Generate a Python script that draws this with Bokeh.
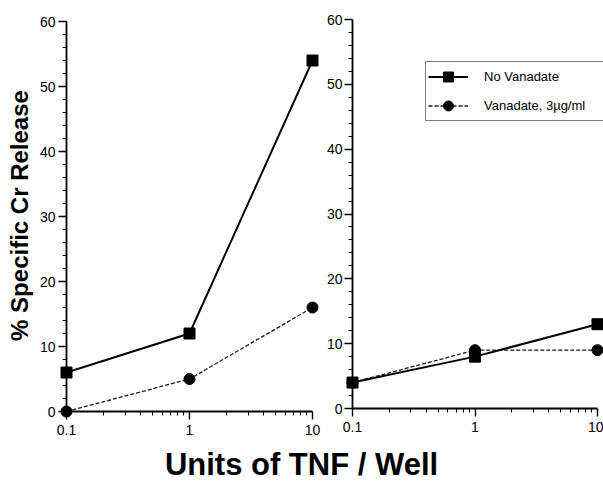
import math
from bokeh.plotting import figure
from bokeh.layouts import row, column
from bokeh.models import (Range1d, FixedTicker, SingleIntervalTicker, CustomJSTickFormatter,
                          Legend, LegendItem, Label)
from bokeh.embed import file_html
from bokeh.resources import INLINE

# ---------------- data ----------------
tnf_units = [0.1, 1, 10]
left_no_vanadate = [6, 12, 54]
left_vanadate = [0, 5, 16]
right_no_vanadate = [4, 8, 13]
right_vanadate = [4, 9, 9]

x_ticks = [0.1, 1, 10]
x_tick_labels = ["0.1", "1", "10"]
x_minor_ticks = [0.2, 0.3, 0.4, 0.5, 0.6, 0.7, 0.8, 0.9, 2, 3, 4, 5, 6, 7, 8, 9]
series_names = ["No Vanadate", "Vanadate, 3µg/ml"]
y_label = "% Specific Cr Release"
x_label = "Units of TNF / Well"

FONT = "Liberation Sans"
ROW_H = 445


def make_panel(W, x01, x10, y60, y0, label_standoff):
    # x01/x10/y60/y0: pixel positions (in the panel's canvas) where the axes should sit
    decade = (x10 - x01) / 2.0
    xs = 0.1 * 10 ** (-x01 / decade)
    xe = 10 * 10 ** ((W - x10) / decade)
    unit = (y0 - y60) / 60.0
    ys = -(ROW_H - y0) / unit
    ye = 60 + y60 / unit
    p = figure(width=W, height=ROW_H, x_axis_type="log",
               x_range=Range1d(xs, xe), y_range=Range1d(ys, ye),
               toolbar_location=None, output_backend="svg", title=None,
               min_border=0)
    p.grid.visible = False
    p.outline_line_color = None
    p.background_fill_color = "white"
    p.border_fill_color = "white"

    xa = p.xaxis[0]
    xa.ticker = FixedTicker(ticks=x_ticks, minor_ticks=x_minor_ticks)
    xa.formatter = CustomJSTickFormatter(
        args=dict(tick_vals=x_ticks, tick_texts=x_tick_labels),
        code="const i = tick_vals.indexOf(tick); return i >= 0 ? tick_texts[i] : String(tick);")
    xa.fixed_location = 0
    xa.bounds = (0.1, 10)
    xa.major_label_standoff = 5

    ya = p.yaxis[0]
    ya.ticker = SingleIntervalTicker(interval=10, num_minor_ticks=5)
    ya.fixed_location = 0.1
    ya.bounds = (0, 60)
    ya.major_label_standoff = label_standoff

    for ax in (xa, ya):
        ax.axis_line_color = "black"
        ax.axis_line_width = 1.8
        ax.major_tick_line_color = "black"
        ax.major_tick_line_width = 1.4
        ax.major_tick_out = 8
        ax.major_tick_in = 0
        ax.minor_tick_line_color = "black"
        ax.minor_tick_line_width = 1.1
        ax.minor_tick_out = 4
        ax.minor_tick_in = 0
        ax.major_label_text_font = FONT
        ax.major_label_text_font_size = "14px"
        ax.major_label_text_color = "black"
    return p


def draw_series(p, no_van, van):
    lv = p.line(tnf_units, van, line_color="#1a1a1a", line_width=1.3, line_dash="4 2")
    sv = p.scatter(tnf_units, van, marker="circle", size=11, color="black")
    ln = p.line(tnf_units, no_van, line_color="black", line_width=2)
    sn = p.scatter(tnf_units, no_van, marker="square", size=11, color="black")
    return ln, sn, lv, sv


# left panel (page x 0..321)
p1 = make_panel(W=321, x01=66, x10=312, y60=21, y0=411, label_standoff=3)
draw_series(p1, left_no_vanadate, left_vanadate)
p1.add_layout(Label(x=19, y=230, x_units="screen", y_units="screen",
                    text=y_label, angle=math.pi / 2,
                    text_align="center", text_baseline="alphabetic",
                    text_font=FONT, text_font_size="24px", text_font_style="bold",
                    text_color="black"))

# right panel (page x 321..603)
p2 = make_panel(W=282, x01=31, x10=276, y60=19, y0=408, label_standoff=2)
ln, sn, lv, sv = draw_series(p2, right_no_vanadate, right_vanadate)

legend = Legend(items=[LegendItem(label=series_names[0], renderers=[ln, sn]),
                       LegendItem(label=series_names[1], renderers=[lv, sv])],
                location=(104, 324), margin=0, padding=2, spacing=4,
                glyph_height=25, glyph_width=40, label_height=25, label_width=117,
                label_standoff=16,
                label_text_font=FONT, label_text_font_size="13px",
                label_text_color="black",
                border_line_color="black", border_line_width=1.5,
                background_fill_color="white", background_fill_alpha=1.0)
p2.add_layout(legend)

# x label strip (page y 445..482)
fx = figure(width=603, height=37, x_range=Range1d(0, 603), y_range=Range1d(0, 37),
            x_axis_location=None, y_axis_location=None, toolbar_location=None,
            output_backend="svg", min_border=0, title=None)
fx.outline_line_color = None
fx.grid.visible = False
fx.add_layout(Label(x=301, y=18, text=x_label,
                    text_align="center", text_baseline="alphabetic",
                    text_font=FONT, text_font_size="31px", text_font_style="bold",
                    text_color="black"))

layout = column(row(p1, p2), fx)
open("out.html", "w").write(file_html(layout, INLINE))
